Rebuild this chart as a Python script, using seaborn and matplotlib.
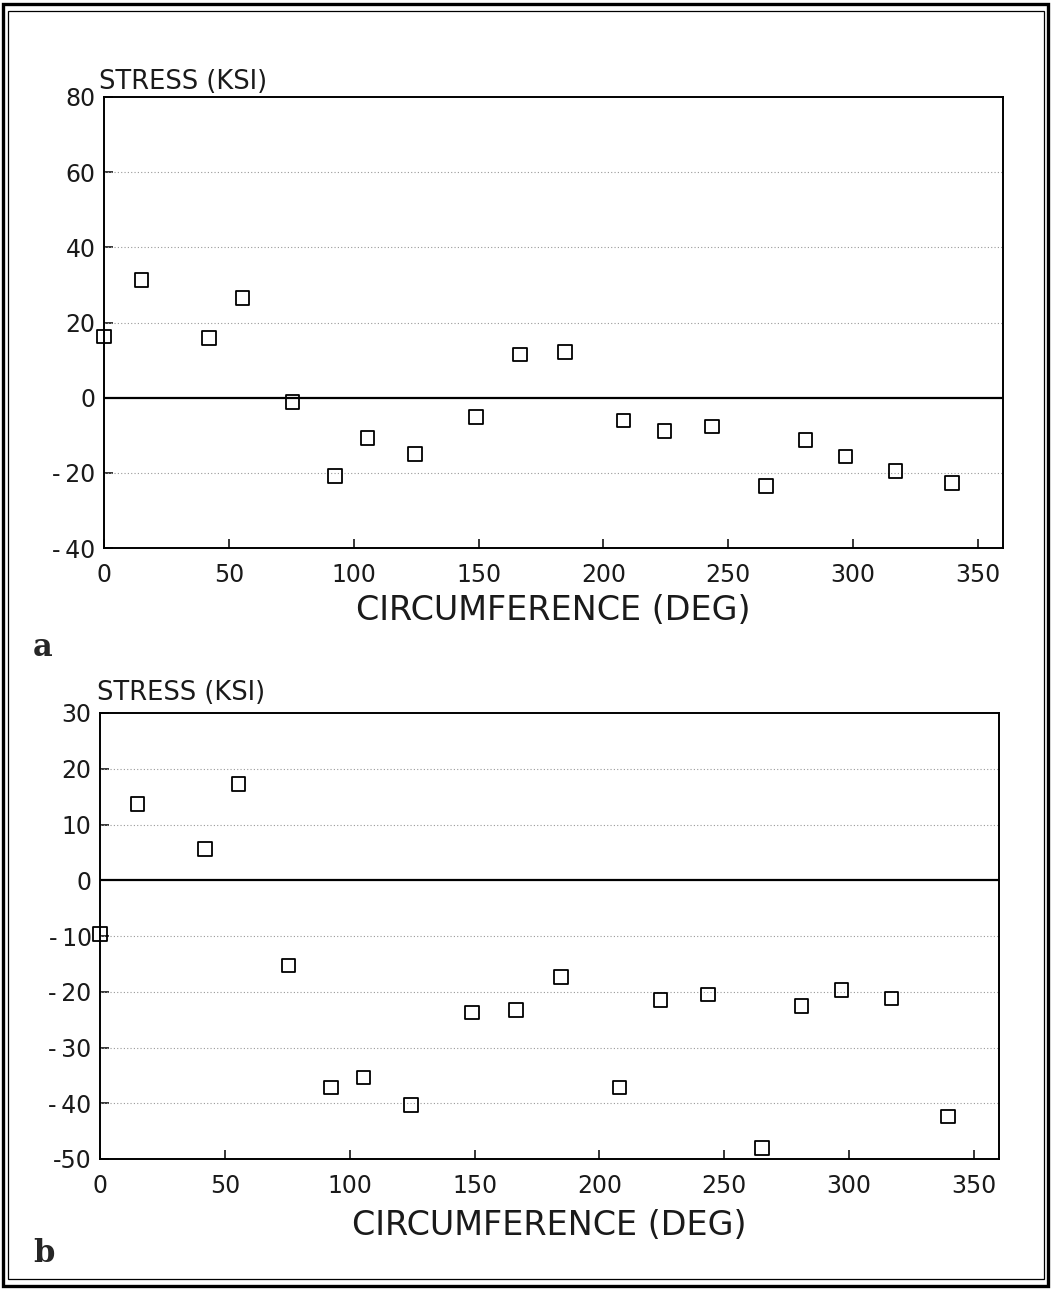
import matplotlib
matplotlib.use("Agg")
import matplotlib.pyplot as plt
import seaborn as sns
import pandas as pd
from matplotlib.patches import Rectangle

# Measurement stations around the circumference (degrees)
angle_deg = [0, 15, 42, 55.5, 75.5, 92.5, 105.5, 124.5, 149, 166.5,
             184.5, 208, 224.5, 243.5, 265, 281, 297, 317, 339.5]

# Panel a: stress (ksi)
stress_a = [16.3, 31.3, 15.9, 26.5, -1.2, -20.8, -10.7, -15.0, -5.1, 11.5,
            12.2, -6.1, -8.8, -7.7, -23.5, -11.2, -15.6, -19.5, -22.7]

# Panel b: stress (ksi)
stress_b = [-9.6, 13.7, 5.6, 17.3, -15.3, -37.2, -35.4, -40.3, -23.7, -23.3,
            -17.4, -37.2, -21.5, -20.5, -48.0, -22.6, -19.7, -21.2, -42.4]

x_ticks = [0, 50, 100, 150, 200, 250, 300, 350]
x_tick_labels = ["0", "50", "100", "150", "200", "250", "300", "350"]

y_ticks_a = [-40, -20, 0, 20, 40, 60, 80]
y_tick_labels_a = ["-\u200940", "-\u200920", "0", "20", "40", "60", "80"]

y_ticks_b = [-50, -40, -30, -20, -10, 0, 10, 20, 30]
y_tick_labels_b = ["-50", "-\u200940", "-\u200930", "-\u200920", "-\u200910",
                   "0", "10", "20", "30"]

panel_letters = ["a", "b"]
y_label_text = "STRESS (KSI)"
x_label_text = "CIRCUMFERENCE (DEG)"

sns.set_theme(style="white")
plt.rcParams["font.family"] = ["DejaVu Sans"]

W, H = 1052, 1289
fig = plt.figure(figsize=(W / 100, H / 100), dpi=100)


def fx(px):
    return px / W


def fy(py):
    return 1 - py / H


ax_a = fig.add_axes([fx(104), fy(548), fx(899), 451 / H])
ax_b = fig.add_axes([fx(100), fy(1159), fx(899), 446 / H])

df = pd.DataFrame({"angle": angle_deg, "a": stress_a, "b": stress_b})

panels = [
    (ax_a, "a", y_ticks_a, y_tick_labels_a),
    (ax_b, "b", y_ticks_b, y_tick_labels_b),
]

for ax, col, yt, ytl in panels:
    # dotted grid at interior ticks, solid line at zero
    for v in yt[1:-1]:
        if v == 0:
            ax.axhline(0, color="black", lw=1.6, zorder=2)
        else:
            ax.axhline(v, color="0.6", lw=0.8, ls=(0, (1, 2)), zorder=1)

    sns.scatterplot(data=df, x="angle", y=col, ax=ax, marker="s", s=95,
                    facecolors="none", edgecolor="black", linewidth=1.3,
                    clip_on=False, zorder=3, legend=False)

    ax.set_xlim(0, 360)
    ax.set_ylim(yt[0], yt[-1])
    ax.set_xticks(x_ticks)
    ax.set_xticklabels(x_tick_labels)
    ax.set_yticks(yt)
    ax.set_yticklabels(ytl)
    ax.set_xlabel("")
    ax.set_ylabel("")
    ax.tick_params(axis="both", direction="in", length=6.5, width=1.1,
                   color="black", labelsize=17, labelcolor="#1a1a1a")
    ax.tick_params(axis="x", pad=11, bottom=True, top=False)
    ax.tick_params(axis="y", pad=6, left=True, right=False)
    for sp in ax.spines.values():
        sp.set_visible(True)
        sp.set_color("black")
        sp.set_linewidth(1.4)
    ax.set_facecolor("white")

# Axis titles
fig.text(fx(99), fy(89), y_label_text, fontsize=18.5, color="#1a1a1a",
         ha="left", va="baseline")
fig.text(fx(97), fy(700), y_label_text, fontsize=18.5, color="#1a1a1a",
         ha="left", va="baseline")
fig.text(fx(553), fy(620), x_label_text, fontsize=24, color="#1a1a1a",
         ha="center", va="baseline")
fig.text(fx(549), fy(1235), x_label_text, fontsize=24, color="#1a1a1a",
         ha="center", va="baseline")

# Panel letters (bold slab serif)
fig.text(fx(33), fy(656), panel_letters[0], fontsize=22, fontweight="bold",
         family="DejaVu Serif", ha="left", va="baseline")
fig.text(fx(33), fy(1262), panel_letters[1], fontsize=22, fontweight="bold",
         family="DejaVu Serif", ha="left", va="baseline")

# Double border around the figure
fig.add_artist(Rectangle((fx(3), fy(1286)), fx(1045), (1282) / H,
                         transform=fig.transFigure, fill=False,
                         edgecolor="black", lw=2.4))
fig.add_artist(Rectangle((fx(8), fy(1279)), fx(1036), (1268) / H,
                         transform=fig.transFigure, fill=False,
                         edgecolor="black", lw=0.9))

fig.savefig("out.png", dpi=100, facecolor="white")
